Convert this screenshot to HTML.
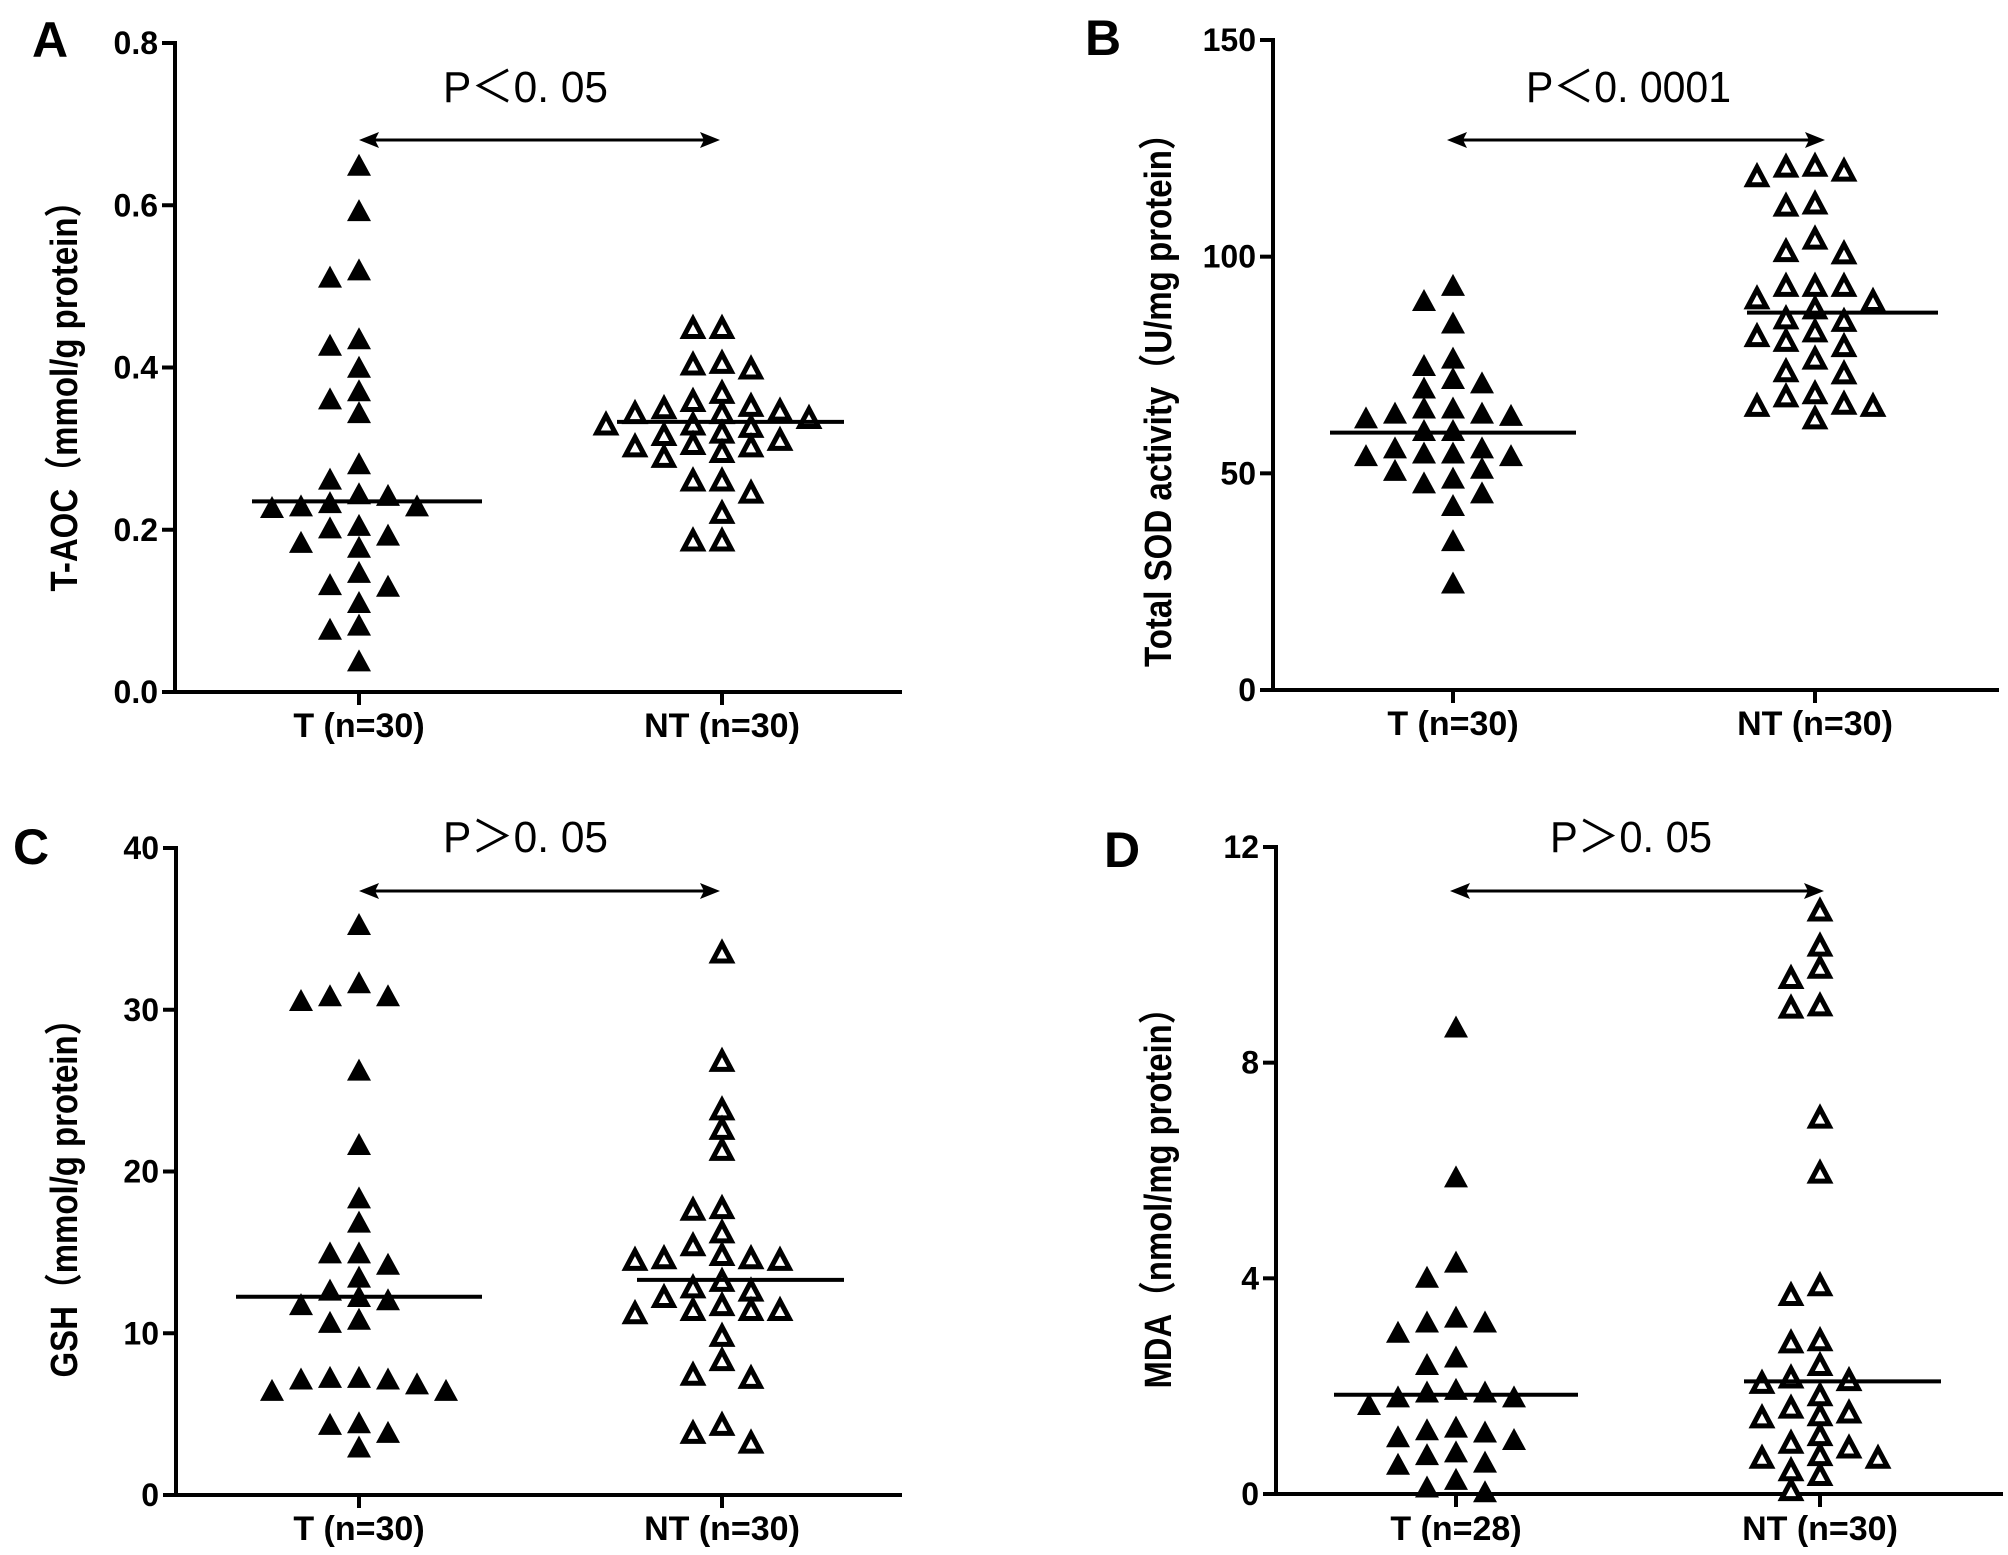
<!DOCTYPE html>
<html><head><meta charset="utf-8"><style>
html,body{margin:0;padding:0;background:#fff;}
svg{display:block;}
text{font-family:"Liberation Sans","Noto Sans CJK SC",sans-serif;}
</style></head><body>
<svg id="fig" width="2008" height="1555" viewBox="0 0 2008 1555" xmlns="http://www.w3.org/2000/svg"></svg>
<script>
// ---- data ----
const categories = ["T", "NT"];
const aLabels = ["T (n=30)", "NT (n=30)"];
const aTicks = [0, 0.2, 0.4, 0.6, 0.8];
const aTickLabels = ["0.0", "0.2", "0.4", "0.6", "0.8"];
const aT = [0.650,0.594,0.521,0.512,0.428,0.436,0.401,0.372,0.362,0.345,0.282,0.263,0.243,0.245,0.230,0.228,0.230,0.234,0.203,0.206,0.185,0.194,0.179,0.148,0.131,0.133,0.111,0.083,0.078,0.039];
const aNT = [0.450,0.450,0.400,0.405,0.407,0.370,0.345,0.345,0.339,0.354,0.351,0.360,0.348,0.318,0.331,0.331,0.328,0.312,0.321,0.307,0.304,0.291,0.297,0.304,0.247,0.262,0.262,0.222,0.188,0.188];
const aMedians = [0.235, 0.333];

const bLabels = ["T (n=30)", "NT (n=30)"];
const bTicks = [0, 50, 100, 150];
const bTickLabels = ["0", "50", "100", "150"];
const bT = [93.5,90,84.8,76.7,75,72,71,69.8,65.2,64,63.5,64,65.2,62.9,60,60,56,56,54.8,54.2,54.8,54.2,50.8,51.3,49,47.9,45.6,42.7,34.6,24.8];
const bNT = [121,118.8,120.1,121.2,112,112.5,104.4,101.5,101,93.5,93.5,93.5,90,90.6,88.3,86,85.4,83,81.9,80.8,79.6,76.7,73.8,73.3,68,68.7,65.8,65.8,66.3,62.9];
const bMedians = [59.4, 87.1];

const cLabels = ["T (n=30)", "NT (n=30)"];
const cTicks = [0, 10, 20, 30, 40];
const cTickLabels = ["0", "10", "20", "30", "40"];
const cT = [35.3,31.7,30.9,30.6,30.9,26.3,21.7,18.4,16.9,15,15,14.3,13.5,12.7,12.3,12.1,11.8,10.7,10.9,7.3,7.2,6.5,6.5,6.9,7.2,7.3,4.4,4.5,3.9,3.0];
const cNT = [33.6,26.9,23.9,22.7,21.4,17.8,17.7,16.3,15.5,14.7,14.6,14.6,14.7,14.9,13.3,12.9,12.7,12.3,11.5,11.5,11.8,11.3,11.5,9.9,8.4,7.5,7.3,4.4,3.9,3.3];
const cMedians = [12.26, 13.3];

const dLabels = ["T (n=28)", "NT (n=30)"];
const dTicks = [0, 4, 8, 12];
const dTickLabels = ["0", "4", "8", "12"];
const dT = [8.67,5.89,4.31,4.03,3.29,3.2,3.2,3.01,2.55,2.41,1.95,1.9,1.81,1.81,1.9,1.67,1.25,1.2,1.16,1.02,1.07,0.74,0.79,0.6,0.56,0.28,0.14,0.05];
const dNT = [10.84,10.19,9.78,9.59,9.04,9.08,7.0,5.98,3.89,3.71,2.83,2.87,2.41,2.13,2.08,2.18,1.85,1.62,1.53,1.44,1.48,1.11,0.97,0.88,0.74,0.69,0.69,0.46,0.37,0.09];
const dMedians = [1.84, 2.09];

// ---- drawing ----
const NS = "http://www.w3.org/2000/svg";
const svg = document.getElementById("fig");
function mk(tag, attrs, parent) {
  const e = document.createElementNS(NS, tag);
  for (const k in attrs) e.setAttribute(k, attrs[k]);
  (parent || svg).appendChild(e);
  return e;
}

const panels = [
  {id:"a", letter:"A", lx:32, ly:57, ax:175, xEnd:902, y0:692, yTop:43, max:0.8, ticks:aTicks, tickLabels:aTickLabels, series:[aT,aNT], medians:aMedians, labels:aLabels, catX:[359,722], med:[[-107,123],[-105,122]], arrow:[359,720,140], p:"P＜0. 05", px:443, pw:165, py:102, title:"T-AOC（mmol/g protein）", tx:65, tyc:388, tlen:407, catY:737},
  {id:"b", letter:"B", lx:1085, ly:55, ax:1273, xEnd:1999, y0:690, yTop:40, max:150, ticks:bTicks, tickLabels:bTickLabels, series:[bT,bNT], medians:bMedians, labels:bLabels, catX:[1453,1815], med:[[-123,123],[-68,123]], arrow:[1447,1825,140], p:"P＜0. 0001", px:1526, pw:205, py:102, title:"Total SOD activity（U/mg protein）", tx:1159, tyc:392, tlen:550, catY:735},
  {id:"c", letter:"C", lx:13, ly:864, ax:176, xEnd:902, y0:1495, yTop:848, max:40, ticks:cTicks, tickLabels:cTickLabels, series:[cT,cNT], medians:cMedians, labels:cLabels, catX:[359,722], med:[[-123,123],[-85,122]], arrow:[359,720,891], p:"P＞0. 05", px:443, pw:165, py:852, title:"GSH（mmol/g protein）", tx:65, tyc:1190, tlen:375, catY:1540},
  {id:"d", letter:"D", lx:1104, ly:867, ax:1276, xEnd:2003, y0:1494, yTop:847, max:12, ticks:dTicks, tickLabels:dTickLabels, series:[dT,dNT], medians:dMedians, labels:dLabels, catX:[1456,1820], med:[[-122,122],[-76,121]], arrow:[1450,1824,891], p:"P＞0. 05", px:1550, pw:162, py:852, title:"MDA（nmol/mg protein）", tx:1159, tyc:1190, tlen:397, catY:1540}
];

const TW = 24, TH = 22, STEP = 29;

panels.forEach(P => {
  const g = mk("g", {});
  
  
  const yS = v => P.y0 - (v / P.max) * (P.y0 - P.yTop);

  const lt = mk("text", {x:P.lx, y:P.ly, "font-size":50, "font-weight":"bold", fill:"#000"}, g);
  lt.textContent = P.letter;
  
  

  const ya = mk("line", {x1:P.ax, y1:P.yTop-2, x2:P.ax, y2:P.y0+2, stroke:"#000", "stroke-width":4}, g);
  
  
  const xa = mk("line", {x1:P.ax-2, y1:P.y0, x2:P.xEnd, y2:P.y0, stroke:"#000", "stroke-width":4}, g);
  
  

  P.ticks.forEach((t, i) => {
    const y = yS(t);
    const tk = mk("line", {x1:P.ax-13, y1:y, x2:P.ax, y2:y, stroke:"#000", "stroke-width":4}, g);
    
    
    const tl = mk("text", {x:P.ax-17, y:y+11, "font-size":32, "font-weight":"bold", "text-anchor":"end", fill:"#000"}, g);
    tl.textContent = P.tickLabels[i];
    
    
  });

  const tt = mk("text", {x:0, y:0, "font-size":38, "font-weight":"bold", "text-anchor":"middle", "dominant-baseline":"central", fill:"#000", textLength:P.tlen, lengthAdjust:"spacingAndGlyphs", transform:`translate(${P.tx},${P.tyc}) rotate(-90)`}, g);
  tt.textContent = P.title;
  
  

  categories.forEach((c, ci) => {
    const cx = P.catX[ci];
    const xt = mk("line", {x1:cx, y1:P.y0, x2:cx, y2:P.y0+13, stroke:"#000", "stroke-width":4}, g);
    
    
    const cl = mk("text", {x:cx, y:P.catY, "font-size":34, "font-weight":"bold", "text-anchor":"middle", fill:"#000"}, g);
    cl.textContent = P.labels[ci];
    
    

    const vals = P.series[ci];
    const placed = [];
    const order = vals.map((v, i) => i).sort((a, b) => vals[b] - vals[a]);
    order.forEach(i => {
      const y = yS(vals[i]);
      let slot = 0;
      for (let k = 0; k < 20; k++) {
        const cand = k === 0 ? 0 : (k % 2 ? -Math.ceil(k/2) : Math.ceil(k/2));
        const clash = placed.some(p => p.s === cand && Math.abs(p.y - y) < TH * 0.85);
        if (!clash) { slot = cand; break; }
      }
      placed.push({s:slot, y:y});
      const x = cx + slot * STEP;
      const pts = `${x},${y-TH/2} ${x-TW/2},${y+TH/2} ${x+TW/2},${y+TH/2}`;
      let tri;
      if (ci === 0) {
        tri = mk("polygon", {points:pts, fill:"#000"}, g);
        
      } else {
        const s = 3;
        const ip = `${x},${y-TH/2+s} ${x-TW/2+s*0.9},${y+TH/2-s/2} ${x+TW/2-s*0.9},${y+TH/2-s/2}`;
        tri = mk("polygon", {points:ip, fill:"#fff", stroke:"#000", "stroke-width":5, "stroke-linejoin":"miter"}, g);
        
      }
      
    });

    const my = yS(P.medians[ci]);
    const ml = mk("line", {x1:cx+P.med[ci][0], y1:my, x2:cx+P.med[ci][1], y2:my, stroke:"#000", "stroke-width":4}, g);
    
    
  });

  const [x1, x2, ay] = P.arrow;
  const ag = mk("g", {}, g);
  
  
  mk("line", {x1:x1+10, y1:ay, x2:x2-10, y2:ay, stroke:"#000", "stroke-width":3}, ag);
  mk("polygon", {points:`${x1},${ay} ${x1+20},${ay-8} ${x1+16},${ay} ${x1+20},${ay+8}`, fill:"#000"}, ag);
  mk("polygon", {points:`${x2},${ay} ${x2-20},${ay-8} ${x2-16},${ay} ${x2-20},${ay+8}`, fill:"#000"}, ag);

  const pt = mk("text", {x:P.px, y:P.py, "font-size":44, fill:"#000", textLength:P.pw, lengthAdjust:"spacingAndGlyphs"}, g);
  pt.textContent = P.p;
  
  
});
</script>
</body></html>
